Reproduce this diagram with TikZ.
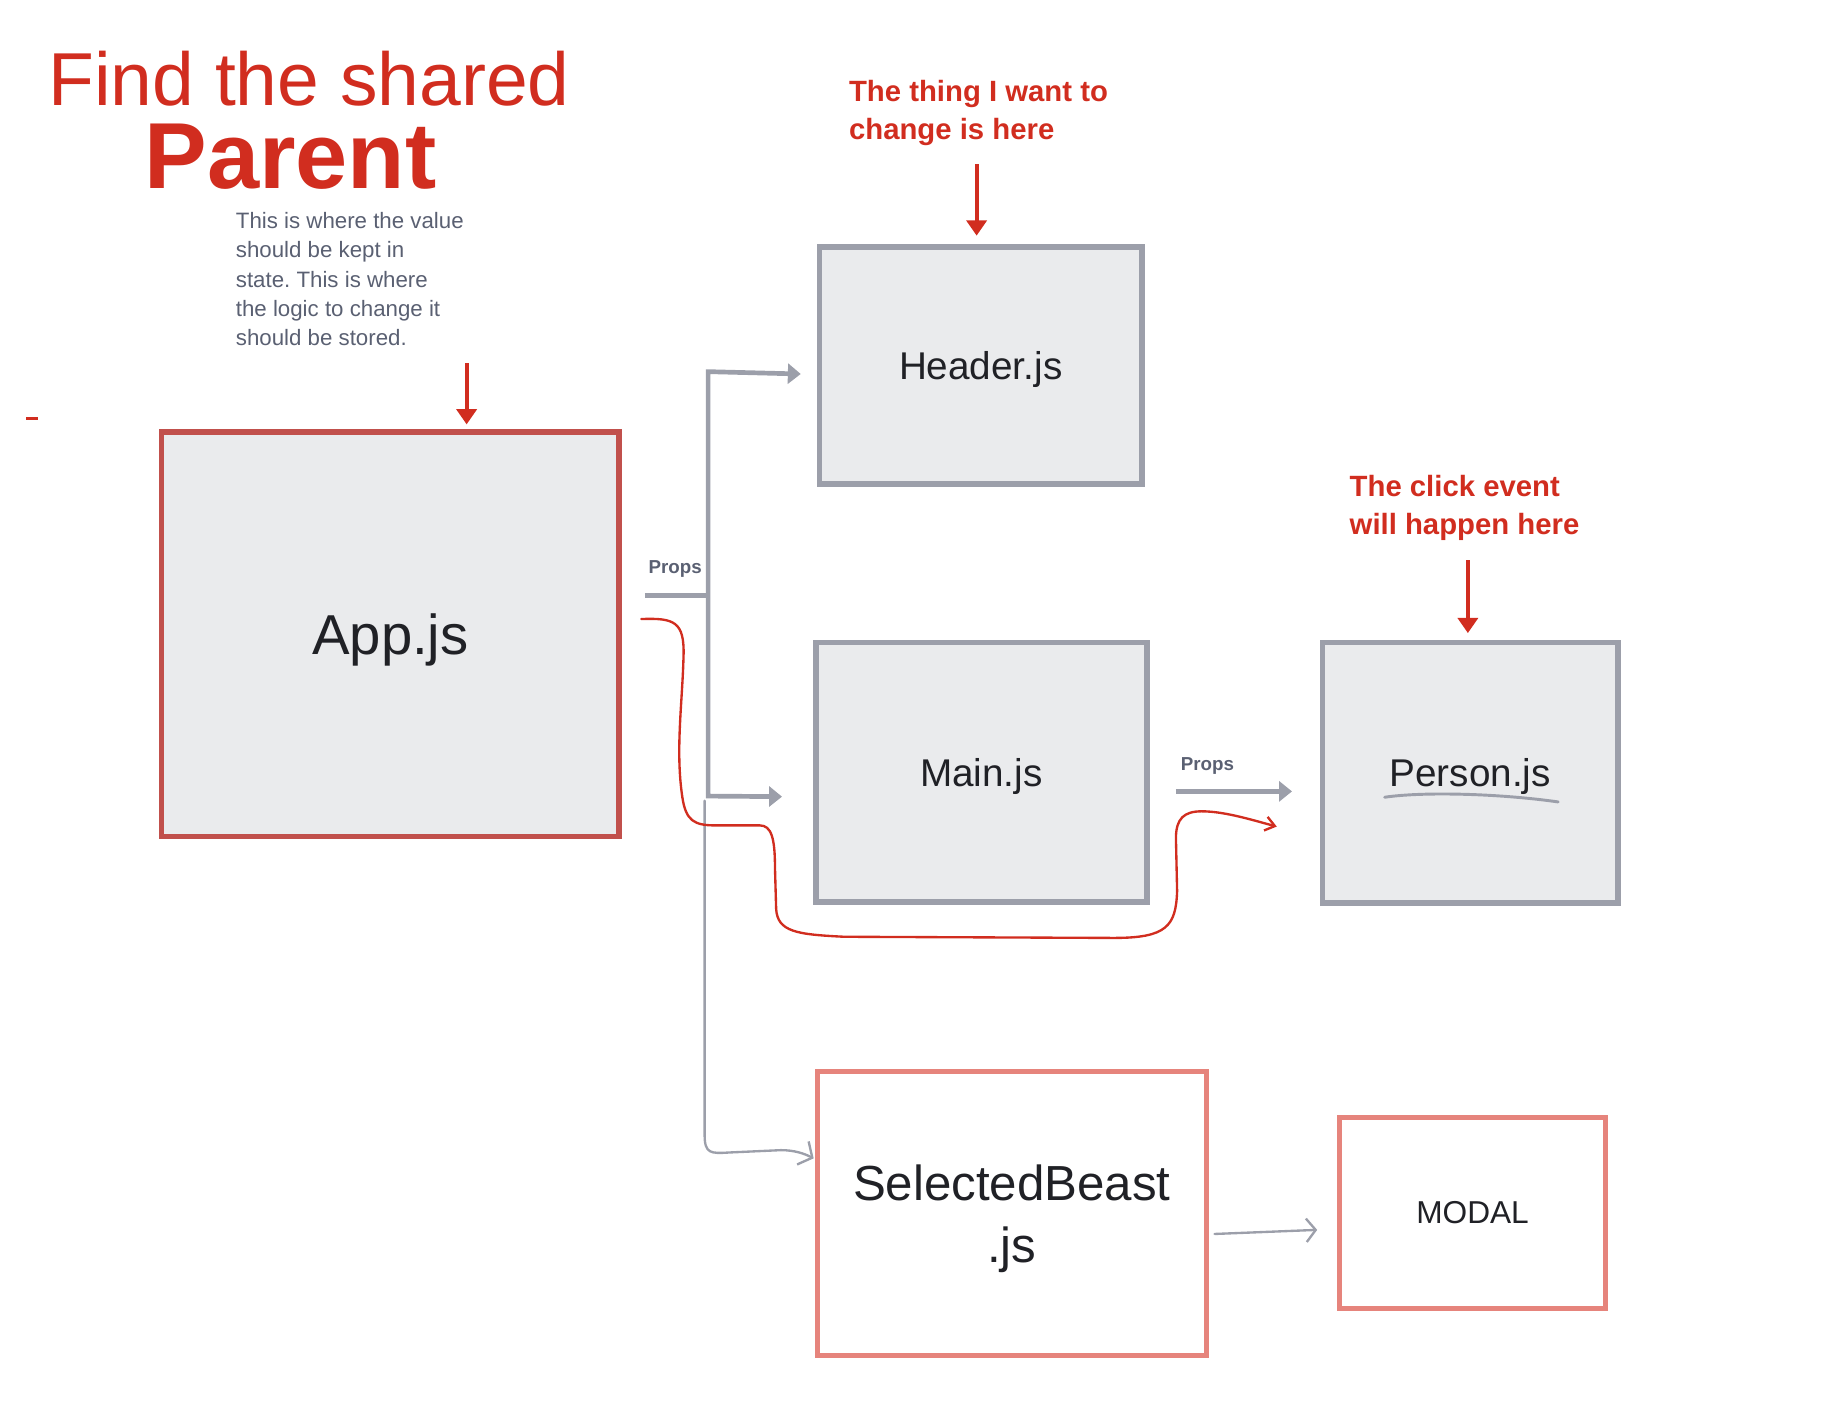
\documentclass[tikz,border=0pt]{standalone}
\usepackage{fontspec}
\setmainfont{Liberation Sans}
\frenchspacing
\usetikzlibrary{arrows.meta,calc,positioning}
\definecolor{inkred}{HTML}{D12D1F}
\definecolor{apred}{HTML}{C1504C}
\definecolor{salmon}{HTML}{E6847C}
\definecolor{boxgray}{HTML}{9C9FAA}
\definecolor{boxfill}{HTML}{EAEBED}
\definecolor{notegray}{HTML}{5A6072}
\definecolor{ink}{HTML}{202126}
\tikzset{%
  comp/.style={draw=boxgray,line width=5pt,fill=boxfill,text=ink,inner sep=0,outer sep=0,text depth=0pt,font=\fontsize{33}{40}\selectfont},
  parentbox/.style={comp,draw=apred,line width=4.5pt},
  childbox/.style={comp,draw=salmon,fill=white,line width=4.5pt},
  propsline/.style={draw=boxgray,line width=4pt},
  propsarrow/.style={propsline,-{Triangle[length=11pt,width=17pt]}},
  propslabel/.style={text=notegray,font=\bfseries\fontsize{16}{18}\selectfont,inner sep=0,anchor=base west},
  redarrow/.style={draw=inkred,line width=3.5pt,-{Triangle[length=13pt,width=17pt]}},
  thinlink/.style={draw=boxgray,line width=2pt,line cap=round,line join=round,-{Straight Barb[length=9pt,width=22pt,line width=2pt]}},
  redsketch/.style={draw=inkred,line width=2pt,line cap=round,line join=round,-{Straight Barb[length=8pt,width=12pt,line width=2pt]}},
  callout/.style={text=inkred,font=\bfseries\fontsize{25}{33}\selectfont,align=left,inner sep=0,anchor=north west}
}
\begin{document}
\begin{tikzpicture}[x=1pt,y=-1pt]
  \useasboundingbox (0,0) rectangle (1566,1201);
  % heading and notes
  \node (title)[anchor=base west,inner sep=0,text=inkred,font=\fontsize{64}{70}\selectfont] at (41,90) {Find the shared};
  \node (parent)[anchor=base west,inner sep=0,text=inkred,font=\bfseries\fontsize{80}{84}\selectfont] at (123,161) {Parent};
  \node (note)[anchor=north west,inner sep=0,text=notegray,align=left,font=\fontsize{19}{25}\selectfont] at (201,181)
    {This is where the value\\should be kept in\\state. This is where\\the logic to change it\\should be stored.};
  \node (thingnote)[callout] at (724,68) {The thing I want to\\change is here};
  \node (clicknote)[callout] at (1151,405) {The click event\\will happen here};
  \draw[inkred,line width=2pt] (22.5,357) -- (32.5,357);
  % components
  \path
    (333,541) node (App)[parentbox,minimum width=390pt,minimum height=345pt,font=\fontsize{48}{56}\selectfont]{App.js}
    (836.5,312) node (Header)[comp,minimum width=275pt,minimum height=202pt]{Header.js}
    (837,658.5) node (Main)[comp,minimum width=282pt,minimum height=221pt]{Main.js}
    (1254,659) node (Person)[comp,minimum width=252pt,minimum height=222pt]{Person.js}
    (863,1035) node (Beast)[childbox,minimum width=332pt,minimum height=242pt,align=center,font=\fontsize{42}{53}\selectfont]{SelectedBeast\\.js}
    (1256,1034.5) node (Modal)[childbox,minimum width=227pt,minimum height=163pt,font=\fontsize{27}{32}\selectfont]{MODAL};
  \draw[boxgray,line width=2.5pt,line cap=round] (1181,680) .. controls (1215,675) and (1280,677) .. (1329,684);
  % red pointers
  \coordinate (appnote) at (398,310);
  \coordinate (hdrnote) at (833,140);
  \coordinate (evtnote) at (1252,478);
  \draw[redarrow,shorten >=6.5pt] (appnote) -- (appnote |- App.north);
  \draw[redarrow,shorten >=10pt] (hdrnote) -- (hdrnote |- Header.north);
  \draw[redarrow,shorten >=8pt] (evtnote) -- (evtnote |- Person.north);
  % props
  \coordinate (propsL) at (550,508);
  \coordinate (trunkT) at (604,317);
  \coordinate (trunkM) at (604,508);
  \coordinate (trunkB) at (604,679);
  \draw[propsline] (propsL) -- (trunkM);
  \draw[propsline,{Triangle[length=11pt,width=17pt]}-{Triangle[length=11pt,width=17pt]}]
    ($(Header.west)+(-16,7)$) -- (trunkT) -- (trunkB) -- ($(Main.west)+(-29,21)$);
  \node (props1)[propslabel] at (553,489) {Props};
  \draw[propsarrow] ($(Main.east)+(25,16.5)$) -- ($(Person.west)+(-26,16)$);
  \node (props2)[propslabel] at (1007,657) {Props};
  % hand drawn links
  \coordinate (sbfork) at (601,683);
  \draw[thinlink] (sbfork) -- (601,968) .. controls (601,984) and (606,984) .. (622,983)
    -- (666,981) .. controls (678,981) and (686,984) .. ($(Beast.west)+(-3,-47)$);
  \draw[thinlink,-{Straight Barb[length=8pt,width=20pt,line width=2pt]}] ($(Beast.east)+(7,17.5)$) -- ($(Modal.west)+(-19,14.5)$);
  \coordinate (redA) at (547,528);
  \coordinate (redB) at (1089,705);
  \draw[redsketch] (redA) .. controls (575,527) and (584,530) .. (583,560)
    .. controls (582,600) and (576,640) .. (582,680)
    .. controls (585,700) and (592,704) .. (610,704) -- (648,704)
    .. controls (658,704) and (661,715) .. (661,740) -- (662,775)
    .. controls (663,795) and (680,797) .. (720,799) -- (950,800)
    .. controls (995,800) and (1003,790) .. (1004,760) -- (1003,715)
    .. controls (1003,698) and (1010,692) .. (1025,692)
    .. controls (1045,692) and (1070,700) .. (redB);
\end{tikzpicture}
\end{document}
